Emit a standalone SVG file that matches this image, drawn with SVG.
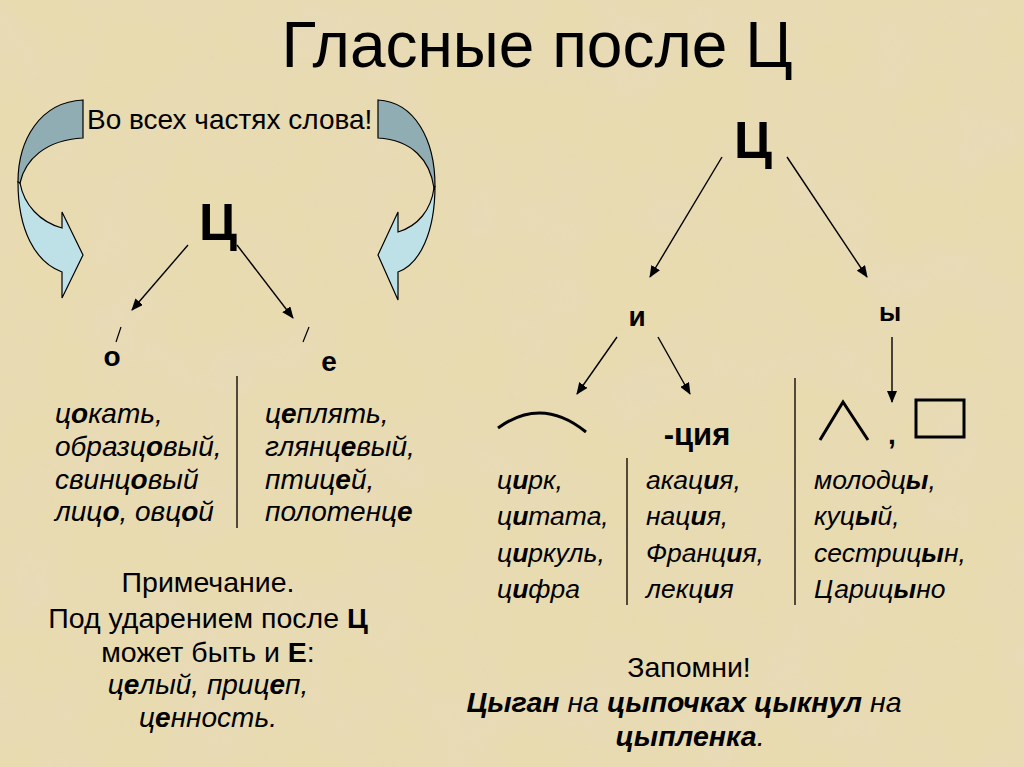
<svg xmlns="http://www.w3.org/2000/svg" width="1024" height="767" viewBox="0 0 1024 767">
<defs>
  <filter id="paper" x="0" y="0" width="100%" height="100%">
    <feTurbulence type="fractalNoise" baseFrequency="0.012" numOctaves="5" seed="7" result="n"/>
    <feColorMatrix in="n" type="matrix" values="0 0 0 0 0.80  0 0 0 0 0.70  0 0 0 0 0.50  0 0 0 -1.8 1.15" result="c"/>
    <feComposite in="c" in2="SourceGraphic" operator="in"/>
  </filter>
  <marker id="ah" markerUnits="userSpaceOnUse" markerWidth="12" markerHeight="10" refX="11" refY="5" orient="auto">
    <path d="M0,0 L12,5 L0,10 z" fill="#000"/>
  </marker>
</defs>
<style>
  text { font-family: "Liberation Sans", Arial, sans-serif; fill: #000; }
  .title { font-size: 64px; }
  .big { font-size: 52px; font-weight: bold; }
  .vow { font-size: 28px; font-weight: bold; }
  .it { font-size: 28px; font-style: italic; }
  .it2 { font-size: 26.5px; font-style: italic; }
  .reg { font-size: 28.5px; }
  .b { font-weight: bold; }
  .conn line { stroke: #000; stroke-width: 1.4; marker-end: url(#ah); }
  .div { stroke: #2b2418; stroke-width: 1.6; }
  .mark { stroke: #000; stroke-width: 1.2; }
  .shape { fill: none; stroke: #000; stroke-width: 3; }
  .arrDark { fill: #8FADB2; stroke: #000; stroke-width: 1.2; }
  .arrLight { fill: #BEE1E8; stroke: #000; stroke-width: 1.2; }
</style>
<rect width="1024" height="767" fill="#E8DBB0"/>
<rect width="1024" height="767" fill="#E8DBB0" filter="url(#paper)" opacity="0.7"/>

<g id="title"><text class="title" x="537" y="67" text-anchor="middle">Гласные после Ц</text></g>

<g id="curved-arrows">
  <path class="arrLight" d="M20,183 C24,205 40,222 62,228 L62,212 L83,255 L62,298 L62,272 C35,262 18,230 18,182 Z"/>
  <path class="arrDark" d="M83,100 C40,102 18,140 18,182 L20,183 C25,160 45,140 83,138 Z"/>
  <path class="arrLight" d="M434,188 C431,210 418,226 398,232 L398,212 L378,255 L398,300 L398,272 C420,264 435,232 435,186 Z"/>
  <path class="arrDark" d="M378,100 C415,102 435,140 435,186 L434,188 C430,160 412,140 378,138 Z"/>
</g>

<g id="note-all"><text class="reg" x="87" y="129" style="font-size:28px">Во всех частях слова!</text></g>

<g id="left-ts"><text class="big" x="218" y="240" text-anchor="middle">Ц</text></g>
<g id="left-o">
  <line class="mark" x1="121" y1="327" x2="116" y2="342"/>
  <text class="vow" x="112" y="366" text-anchor="middle">о</text>
</g>
<g id="left-e">
  <line class="mark" x1="309" y1="327" x2="303" y2="342"/>
  <text class="vow" x="329" y="371" text-anchor="middle">е</text>
</g>

<g id="left-o-words">
  <text class="it" x="55" y="423">ц<tspan class="b">о</tspan>кать,</text>
  <text class="it" x="55" y="456">образц<tspan class="b">о</tspan>вый,</text>
  <text class="it" x="55" y="489">свинц<tspan class="b">о</tspan>вый</text>
  <text class="it" x="55" y="521">лиц<tspan class="b">о</tspan>, овц<tspan class="b">о</tspan>й</text>
</g>
<g id="left-e-words">
  <text class="it" x="265" y="423">ц<tspan class="b">е</tspan>плять,</text>
  <text class="it" x="265" y="456">глянц<tspan class="b">е</tspan>вый,</text>
  <text class="it" x="265" y="489">птиц<tspan class="b">е</tspan>й,</text>
  <text class="it" x="265" y="521">полотенц<tspan class="b">е</tspan></text>
</g>

<g id="remark">
  <text class="reg" x="208" y="592" text-anchor="middle">Примечание.</text>
  <text class="reg" x="208" y="628" text-anchor="middle">Под ударением после <tspan class="b">Ц</tspan></text>
  <text class="reg" x="208" y="662" text-anchor="middle">может быть и <tspan class="b">Е</tspan>:</text>
  <text class="it" x="208" y="694" text-anchor="middle">ц<tspan class="b">е</tspan>лый, приц<tspan class="b">е</tspan>п,</text>
  <text class="it" x="208" y="727" text-anchor="middle">ц<tspan class="b">е</tspan>нность.</text>
</g>

<g id="right-ts"><text class="big" x="753" y="158" text-anchor="middle">Ц</text></g>
<g id="right-i"><text class="vow" x="637" y="326" text-anchor="middle">и</text></g>
<g id="right-y"><text class="vow" x="890" y="321" text-anchor="middle" style="font-size:26px">ы</text></g>

<g id="root-symbol"><path class="shape" d="M498,428 Q542,396 586,432"/></g>
<g id="suffix"><text class="vow" x="697" y="445" text-anchor="middle" style="font-size:31px">-ция</text></g>
<g id="ending-suffix-symbols">
  <polyline class="shape" points="820,440 843,402 868,440"/>
  <text class="vow" x="892" y="444" text-anchor="middle">,</text>
  <rect class="shape" x="916" y="400" width="48" height="37"/>
</g>

<g id="i-root-words">
  <text class="it2" x="497" y="489">ц<tspan class="b">и</tspan>рк,</text>
  <text class="it2" x="497" y="525">ц<tspan class="b">и</tspan>тата,</text>
  <text class="it2" x="497" y="562">ц<tspan class="b">и</tspan>ркуль,</text>
  <text class="it2" x="497" y="598">ц<tspan class="b">и</tspan>фра</text>
</g>
<g id="i-suffix-words">
  <text class="it2" x="646" y="489">акац<tspan class="b">и</tspan>я,</text>
  <text class="it2" x="646" y="525">нац<tspan class="b">и</tspan>я,</text>
  <text class="it2" x="646" y="562">Франц<tspan class="b">и</tspan>я,</text>
  <text class="it2" x="646" y="598">лекц<tspan class="b">и</tspan>я</text>
</g>
<g id="y-words">
  <text class="it2" x="814" y="489">молодц<tspan class="b">ы</tspan>,</text>
  <text class="it2" x="814" y="525">куц<tspan class="b">ы</tspan>й,</text>
  <text class="it2" x="814" y="562">сестриц<tspan class="b">ы</tspan>н,</text>
  <text class="it2" x="814" y="598">Цариц<tspan class="b">ы</tspan>но</text>
</g>

<g id="remember">
  <text class="reg" x="689" y="677" text-anchor="middle">Запомни!</text>
  <text class="it" x="684" y="712" text-anchor="middle" style="font-size:28.5px"><tspan class="b">Цыган</tspan> на <tspan class="b">цыпочках цыкнул</tspan> на</text>
  <text class="it" x="690" y="746" text-anchor="middle" style="font-size:28.5px"><tspan class="b">цыпленка</tspan>.</text>
</g>

<g id="dividers">
  <line class="div" x1="237" y1="376" x2="237" y2="528"/>
  <line class="div" x1="627" y1="458" x2="627" y2="605"/>
  <line class="div" x1="795" y1="378" x2="795" y2="605"/>
</g>

<g id="connectors" class="conn">
  <line x1="188" y1="245" x2="132" y2="310"/>
  <line x1="237" y1="245" x2="293" y2="318"/>
  <line x1="722" y1="157" x2="650" y2="277"/>
  <line x1="787" y1="157" x2="867" y2="277"/>
  <line x1="617" y1="337" x2="577" y2="394"/>
  <line x1="658" y1="337" x2="690" y2="394"/>
  <line x1="892" y1="337" x2="892" y2="402"/>
</g>
</svg>
